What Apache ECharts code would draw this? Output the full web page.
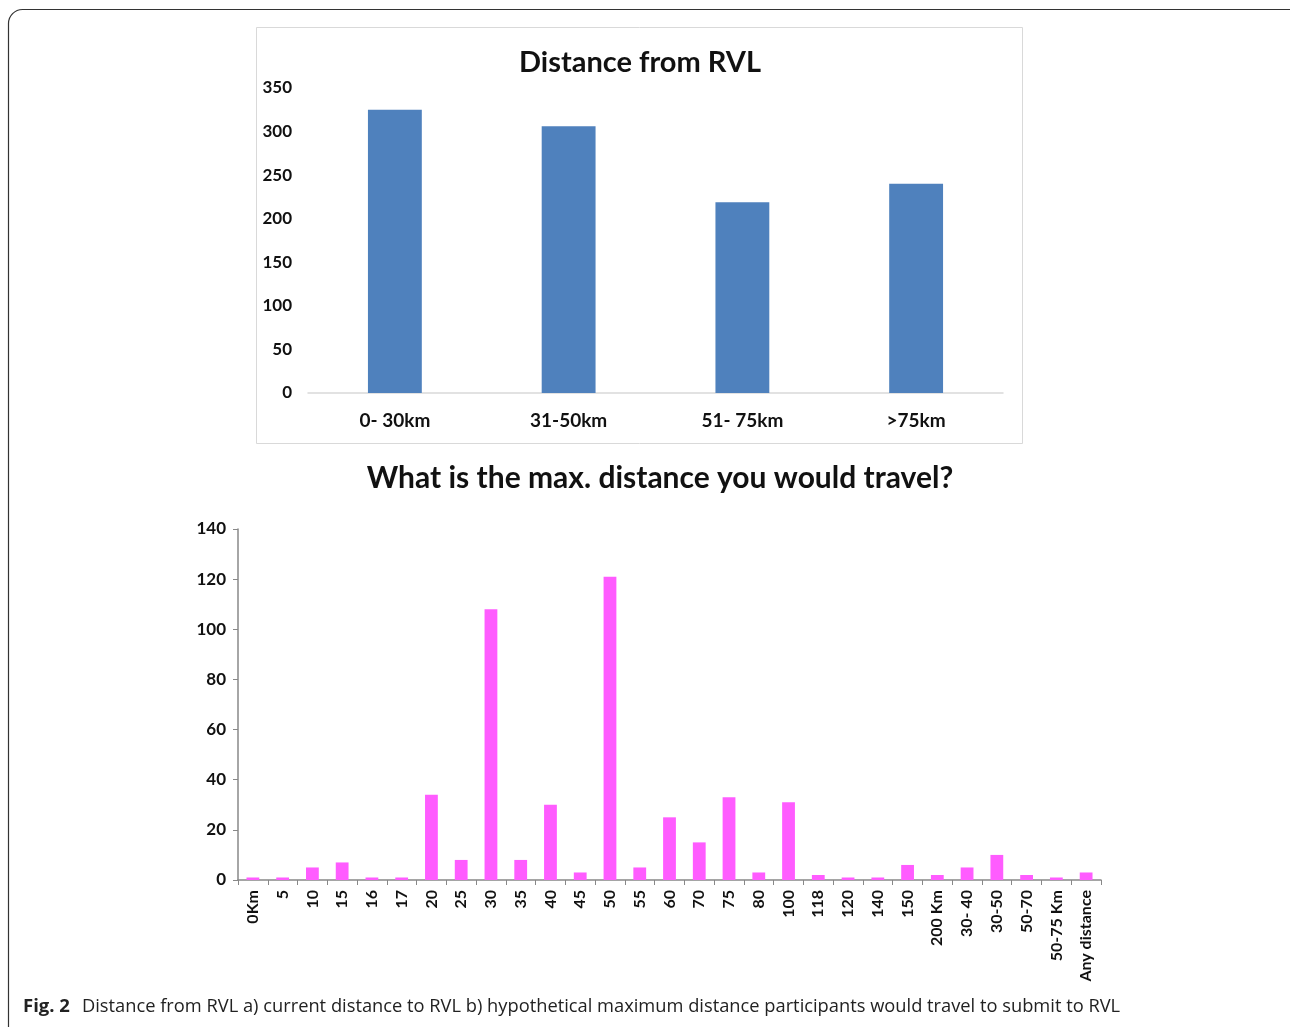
<!DOCTYPE html>
<html>
<head>
<meta charset="utf-8">
<script src="https://cdn.jsdelivr.net/npm/echarts@6/dist/echarts.min.js"></script>
<style>
html,body{margin:0;padding:0;background:#fff;}
#c{width:1290px;height:1027px;}
</style>
</head>
<body>
<div id="c"></div>
<script>
// Chart a) current distance to RVL
const topCategories = ['0- 30km', '31-50km', '51- 75km', '>75km'];
const topValues = [325, 306, 219, 240];
const topTicks = [0, 50, 100, 150, 200, 250, 300, 350];

// Chart b) max distance participants would travel
const bottomCategories = ['0Km', '5', '10', '15', '16', '17', '20', '25', '30', '35', '40', '45', '50', '55', '60', '70', '75', '80', '100', '118', '120', '140', '150', '200 Km', '30- 40', '30-50', '50-70', '50-75 Km', 'Any distance'];
const bottomValues = [1, 1, 5, 7, 1, 1, 34, 8, 108, 8, 30, 3, 121, 5, 25, 15, 33, 3, 31, 2, 1, 1, 6, 2, 5, 10, 2, 1, 3];
const bottomTicks = [0, 20, 40, 60, 80, 100, 120, 140];

const topTitle = 'Distance from RVL';
const bottomTitle = 'What is the max. distance you would travel?';
const captionBold = 'Fig. 2';
const captionText = 'Distance from RVL a) current distance to RVL b) hypothetical maximum distance participants would travel to submit to RVL';

const chartFont = 'Lato, "Open Sans", sans-serif';
const chart = echarts.init(document.getElementById('c'), null, {renderer: 'canvas'});

chart.setOption({
  backgroundColor: '#fff',
  animation: false,
  graphic: [
    {type: 'rect', shape: {x: 8.5, y: 9.5, width: 1300, height: 1040, r: 14}, style: {fill: 'none', stroke: '#333', lineWidth: 1.2}, z: 0},
    {type: 'rect', shape: {x: 256.5, y: 27.5, width: 766, height: 416}, style: {fill: 'none', stroke: '#d9d9d9', lineWidth: 1}, z: 0},
    {type: 'text', left: 23, top: 997, style: {
      text: '{b|' + captionBold + '}{s| }{n|' + captionText + '}',
      rich: {
        b: {fontFamily: '"Open Sans", sans-serif', fontWeight: 'bold', fontSize: 18.5, fill: '#222'},
        s: {fontSize: 18.5, width: 12},
        n: {fontFamily: '"Open Sans", sans-serif', fontSize: 18.3, fill: '#222'}
      }
    }}
  ],
  title: [
    {text: topTitle, left: 635, top: 43, textAlign: 'center',
     textStyle: {fontFamily: chartFont, fontWeight: 'bold', fontSize: 29, color: '#111'}},
    {text: bottomTitle, left: 655, top: 458, textAlign: 'center',
     textStyle: {fontFamily: chartFont, fontWeight: 'bold', fontSize: 30, color: '#111'}}
  ],
  grid: [
    {left: 308, right: 287, top: 88, bottom: 634, containLabel: false},
    {left: 238, right: 189, top: 529, bottom: 147, containLabel: false}
  ],
  xAxis: [
    {type: 'category', gridIndex: 0, data: topCategories,
     axisLine: {lineStyle: {color: '#d9d9d9', width: 1.5}},
     axisTick: {show: false},
     axisLabel: {margin: 18, fontFamily: chartFont, fontWeight: 'bold', fontSize: 19, color: '#111'}},
    {type: 'category', gridIndex: 1, data: bottomCategories,
     axisLine: {lineStyle: {color: '#888', width: 1.5}},
     axisTick: {show: true, length: 5, lineStyle: {color: '#888'}},
     axisLabel: {rotate: 90, interval: 0, margin: 10, fontFamily: chartFont, fontWeight: 'bold', fontSize: 16, color: '#111'}}
  ],
  yAxis: [
    {type: 'value', gridIndex: 0, min: 0, max: 350, interval: 50,
     axisLine: {show: false}, axisTick: {show: false}, splitLine: {show: false},
     axisLabel: {margin: 16, fontFamily: chartFont, fontWeight: 'bold', fontSize: 17, color: '#111',
       formatter: v => topTicks.includes(v) ? String(v) : ''}},
    {type: 'value', gridIndex: 1, min: 0, max: 140, interval: 20,
     axisLine: {show: true, lineStyle: {color: '#888', width: 1.5}},
     axisTick: {show: true, length: 5, lineStyle: {color: '#888'}},
     splitLine: {show: false},
     axisLabel: {margin: 12, fontFamily: chartFont, fontWeight: 'bold', fontSize: 17, color: '#111',
       formatter: v => bottomTicks.includes(v) ? String(v) : ''}}
  ],
  series: [
    {type: 'bar', xAxisIndex: 0, yAxisIndex: 0, data: topValues, barWidth: '31%',
     itemStyle: {color: '#4f81bd'}},
    {type: 'bar', xAxisIndex: 1, yAxisIndex: 1, data: bottomValues, barWidth: '43%',
     itemStyle: {color: '#ff5cff'}}
  ]
});
</script>
</body>
</html>
